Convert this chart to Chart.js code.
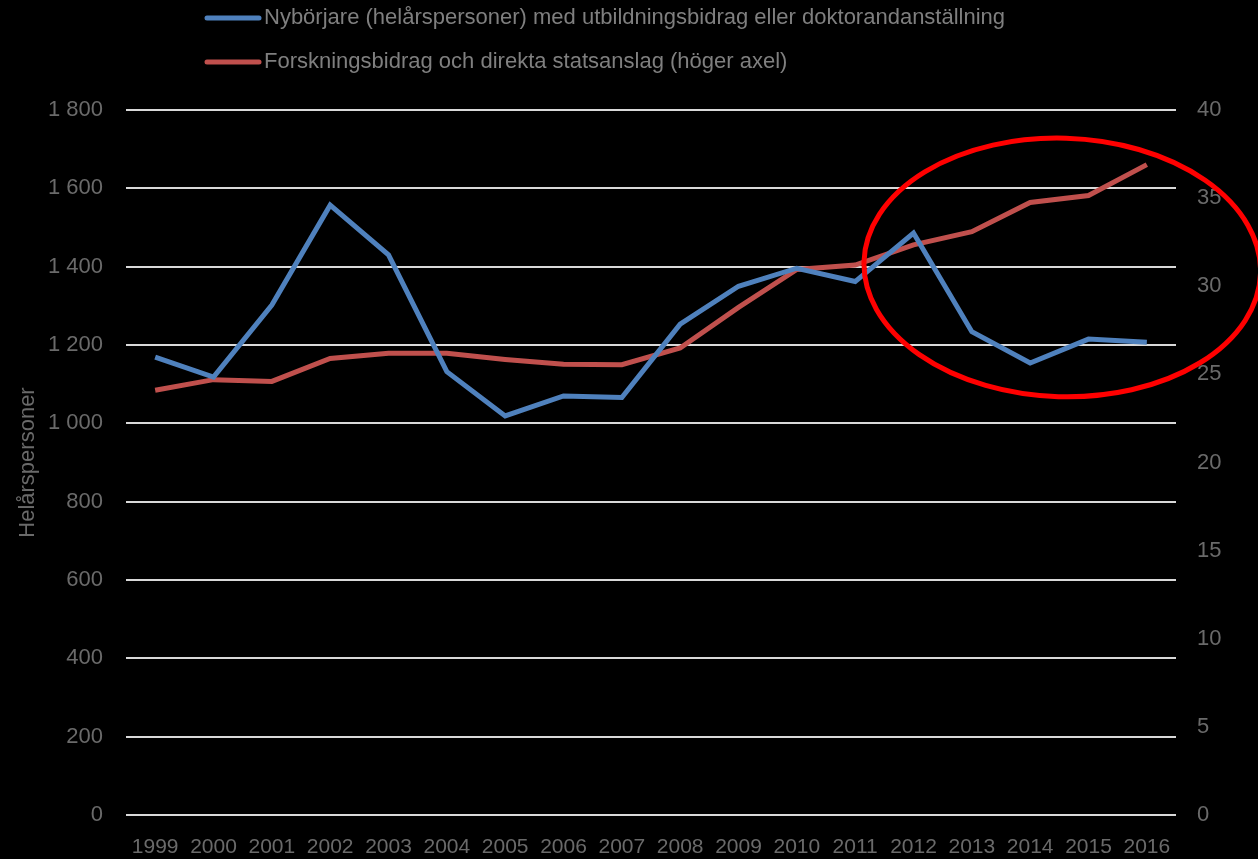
<!DOCTYPE html>
<html>
<head>
<meta charset="utf-8">
<script src="https://cdn.jsdelivr.net/npm/chart.js@4.4.1/dist/chart.umd.min.js"></script>
<style>
  html, body { margin: 0; padding: 0; background: #000; }
  #wrap { width: 1258px; height: 859px; }
</style>
</head>
<body>
<div id="wrap"><canvas id="chart" width="1258" height="859"></canvas></div>
<script>
const years = ['1999','2000','2001','2002','2003','2004','2005','2006','2007','2008',
               '2009','2010','2011','2012','2013','2014','2015','2016'];
// helårspersoner, vänster axel
const nyborjare = [1169, 1118, 1302, 1557, 1430, 1132, 1019, 1070, 1066, 1253,
                   1350, 1396, 1362, 1486, 1234, 1154, 1215, 1207];
// höger axel
const forskning = [24.1, 24.7, 24.6, 25.9, 26.2, 26.2, 25.85, 25.57, 25.55, 26.5,
                   28.8, 30.95, 31.2, 32.35, 33.1, 34.75, 35.15, 36.9];
const labelBlue = 'Nybörjare (helårspersoner) med utbildningsbidrag eller doktorandanställning';
const labelRed = 'Forskningsbidrag och direkta statsanslag (höger axel)';

const FONT = "'Liberation Sans', Arial, sans-serif";
const TXT = '#6a6a6a';

// stacked legend at the top, left aligned
const stackedLegend = {
  id: 'stackedLegend',
  afterDraw(chart) {
    const ctx = chart.ctx;
    ctx.save();
    ctx.font = '22px ' + FONT;
    ctx.textBaseline = 'middle';
    chart.data.datasets.forEach((ds, i) => {
      const y = 18 + i * 44;
      ctx.strokeStyle = ds.borderColor;
      ctx.lineWidth = 5;
      ctx.lineCap = 'round';
      ctx.beginPath();
      ctx.moveTo(207, y);
      ctx.lineTo(259, y);
      ctx.stroke();
      ctx.fillStyle = '#7f7f7f';
      ctx.fillText(ds.label, 264, y);
    });
    ctx.restore();
  }
};

// red ellipse marking the last years
const ring = {
  id: 'ring',
  afterDraw(chart) {
    const x = chart.scales.x, y = chart.scales.y;
    const cx = x.getPixelForValue(15.55);
    const cy = y.getPixelForValue(1398);
    const rx = x.getPixelForValue(15.55 + 3.4) - cx;
    const ry = y.getPixelForValue(1398) - y.getPixelForValue(1398 + 330);
    const ctx = chart.ctx;
    ctx.save();
    ctx.strokeStyle = '#ff0000';
    ctx.lineWidth = 5;
    ctx.beginPath();
    ctx.ellipse(cx, cy, rx, ry, 0.03, 0, Math.PI * 2);
    ctx.stroke();
    ctx.restore();
  }
};

new Chart(document.getElementById('chart'), {
  type: 'line',
  data: {
    labels: years,
    datasets: [{
      label: labelBlue,
      data: nyborjare,
      yAxisID: 'y',
      borderColor: '#4f81bd',
      borderWidth: 5,
      pointRadius: 0,
      tension: 0
    }, {
      label: labelRed,
      data: forskning,
      yAxisID: 'y1',
      borderColor: '#c0504d',
      borderWidth: 5,
      pointRadius: 0,
      tension: 0
    }]
  },
  options: {
    responsive: false,
    animation: false,
    devicePixelRatio: 1,
    layout: { padding: { top: 110, left: 0, right: 0, bottom: 0 } },
    scales: {
      x: {
        offset: true,
        afterFit: s => { s.height = 44; },
        grid: { display: false },
        border: { display: false },
        ticks: { color: TXT, font: { family: FONT, size: 21 }, padding: 12, maxRotation: 0, autoSkip: false }
      },
      y: {
        position: 'left',
        min: 0, max: 1800,
        afterFit: s => { s.width = 126; },
        grid: { color: '#d9d9d9', lineWidth: 2, drawTicks: false },
        border: { display: false },
        ticks: {
          stepSize: 200, color: TXT, padding: 23,
          font: { family: FONT, size: 22 },
          callback: v => v >= 1000 ? Math.floor(v / 1000) + ' ' + String(v % 1000).padStart(3, '0') : String(v)
        },
        title: { display: true, text: 'Helårspersoner', color: TXT, font: { family: FONT, size: 22 }, padding: { top: 15, bottom: 0 } }
      },
      y1: {
        position: 'right',
        min: 0, max: 40,
        afterFit: s => { s.width = 82; },
        grid: { display: false, drawTicks: false },
        border: { display: false },
        ticks: { stepSize: 5, color: TXT, padding: 21, font: { family: FONT, size: 22 } }
      }
    },
    plugins: {
      legend: { display: false },
      tooltip: { enabled: false }
    }
  },
  plugins: [stackedLegend, ring]
});
</script>
</body>
</html>
